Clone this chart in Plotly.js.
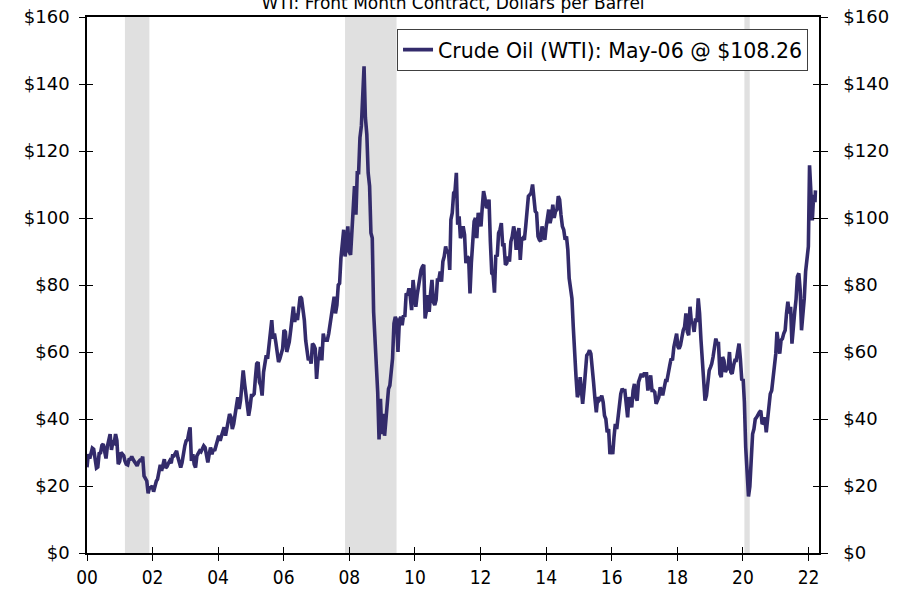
<!DOCTYPE html>
<html>
<head>
<meta charset="utf-8">
<script src="https://cdn.plot.ly/plotly-3.0.1.min.js"></script>
<style>
  html, body { margin: 0; padding: 0; background: #ffffff; }
  #chart { width: 900px; height: 589px; }
</style>
</head>
<body>
<div id="chart"></div>
<script>
// Semi-monthly WTI readings (1st and 16th of each month), $/barrel
const wti2000 = [25.6,29.5,28.2,29.7,31.3,31.0,26.9,25.4,25.7,29.7,29.9,32.1,32.5,29.7,28.2,31.8,33.4,35.5,30.8,33.1,32.8,35.5,33.6,26.5];
const wti2001 = [27.3,30.0,29.5,29.0,27.5,26.5,26.3,27.9,28.0,28.8,27.9,27.1,26.4,26.0,27.2,27.7,27.6,28.8,23.0,22.0,21.5,17.8,19.5,19.5];
const wti2002 = [20.0,18.3,20.3,21.5,22.0,24.5,26.3,24.5,27.0,28.0,25.4,25.8,26.8,27.5,26.8,29.0,29.0,29.8,30.5,28.5,26.5,25.5,27.0,30.5];
const wti2003 = [32.0,33.5,33.8,36.0,37.5,27.5,29.5,26.5,25.5,29.0,30.0,30.5,30.2,31.0,32.0,31.5,29.0,27.0,29.5,31.5,29.5,31.0,30.5,32.5];
const wti2004 = [33.5,35.0,33.5,35.0,36.5,37.5,35.0,37.5,39.5,41.5,40.5,37.0,38.5,41.0,43.8,46.5,43.0,45.5,50.0,54.5,50.5,47.5,45.5,41.0];
const wti2005 = [43.5,47.0,47.0,47.5,52.0,56.5,57.0,51.0,50.0,47.0,54.0,57.5,59.0,58.0,62.0,65.5,69.5,64.0,65.5,63.0,60.5,57.0,58.0,59.5];
const wti2006 = [61.0,66.5,66.0,60.0,61.5,63.0,66.5,69.5,73.5,69.0,71.5,69.5,73.5,76.5,76.0,72.5,69.5,63.5,61.0,57.5,58.5,56.5,62.5,62.0];
const wti2007 = [61.0,52.0,57.5,58.5,61.5,57.5,65.5,63.5,63.5,63.5,65.5,68.0,71.0,74.5,76.5,71.5,74.0,80.0,80.5,88.0,94.5,96.5,88.5,91.5];
const wti2008 = [97.5,90.0,89.0,95.5,102.0,109.5,101.0,113.5,113.5,124.0,127.5,134.6,145.3,130.0,125.0,113.5,109.5,95.5,94.0,72.0,63.5,55.0,48.0,33.9];
const wti2009 = [46.0,35.5,41.5,35.0,40.0,46.0,49.0,50.0,53.0,58.0,68.5,70.5,69.5,60.0,69.5,70.5,68.0,71.0,70.5,77.5,77.0,79.0,76.5,72.5];
const wti2010 = [81.5,78.0,73.5,77.0,79.5,81.0,84.5,85.5,86.0,70.0,72.5,77.0,72.0,77.5,81.5,75.0,74.0,75.5,81.5,81.5,84.0,81.0,87.0,88.5];
const wti2011 = [91.5,89.5,90.5,84.5,99.5,101.5,107.5,108.0,113.5,98.0,100.5,94.0,95.0,97.5,95.0,86.5,88.5,88.0,77.5,86.5,92.0,99.0,100.0,94.0];
const wti2012 = [101.5,99.5,97.5,103.5,108.0,106.0,103.0,103.5,105.5,93.0,83.5,83.0,77.7,89.0,88.5,95.5,96.5,98.5,92.0,92.0,86.0,86.5,88.5,87.0];
const wti2013 = [93.0,94.5,97.5,95.5,90.5,93.5,97.0,87.5,93.5,94.0,93.5,97.5,101.5,106.5,107.0,107.5,110.0,105.5,102.0,101.5,94.5,93.5,93.0,97.5];
const wti2014 = [95.0,93.5,97.5,100.5,102.5,98.5,100.5,104.0,100.0,102.0,102.5,106.5,105.5,101.0,97.5,96.5,93.5,94.5,90.5,82.0,79.5,76.0,67.5,57.0];
const wti2015 = [52.5,46.5,48.0,52.5,49.5,44.5,49.0,55.5,59.0,59.5,60.5,59.5,56.0,51.0,46.0,42.0,46.5,45.5,46.0,47.0,45.0,41.0,40.0,36.0];
const wti2016 = [37.0,29.5,32.0,29.5,34.5,38.5,37.0,40.5,45.5,47.5,49.0,48.5,48.5,45.5,40.5,46.5,44.5,43.5,48.5,50.5,46.5,45.5,51.0,52.0];
const wti2017 = [53.5,52.5,53.5,53.5,53.5,48.5,50.5,53.0,48.5,48.5,48.0,44.5,45.5,46.5,49.5,47.5,47.5,49.5,51.5,51.5,54.5,56.0,58.0,57.5];
const wti2018 = [61.5,64.0,65.5,61.5,61.0,62.0,64.5,66.5,67.5,71.5,66.0,65.0,73.5,69.0,68.5,66.0,70.0,69.0,76.0,71.5,63.5,56.5,52.5,45.5];
const wti2019 = [47.0,52.0,54.5,55.5,56.5,58.5,61.5,64.0,62.5,62.5,53.5,52.5,58.5,57.5,54.0,55.0,55.0,60.0,54.0,53.5,56.0,57.5,57.5,60.5];
const wti2020 = [62.5,58.0,51.5,52.0,45.0,31.5,21.0,16.9,19.8,29.5,35.5,37.0,40.0,40.5,41.5,42.0,42.5,38.5,39.0,40.5,36.0,40.5,45.5,47.5];
const wti2021 = [48.5,52.5,56.0,59.5,66.0,61.5,59.5,63.5,64.0,65.5,66.5,71.5,75.0,71.5,73.5,62.5,68.5,72.0,75.8,82.5,83.5,78.5,66.5,71.0];
const wti2022 = [76.0,84.0,88.0,91.5,115.7,104.7,99.3,106.9,104.7];
const lastDate = '2022-05-06';
const lastValue = 108.26;
const lastLabel = 'May-06';

// Recession periods
const recessionStart = ['2001-03-01','2007-12-01','2020-03-01'];
const recessionEnd   = ['2001-11-30','2009-06-30','2020-04-30'];

// Tick labels
const yearLabels = ['00','02','04','06','08','10','12','14','16','18','20','22'];

const years = [wti2000,wti2001,wti2002,wti2003,wti2004,wti2005,wti2006,wti2007,wti2008,wti2009,wti2010,wti2011,
               wti2012,wti2013,wti2014,wti2015,wti2016,wti2017,wti2018,wti2019,wti2020,wti2021,wti2022];
const xs = [], ys = [];
years.forEach((arr, yi) => {
  const yr = 2000 + yi;
  arr.forEach((v, i) => {
    const m = Math.floor(i / 2) + 1;
    const d = (i % 2 === 0) ? '01' : '16';
    xs.push(yr + '-' + String(m).padStart(2, '0') + '-' + d);
    ys.push(v);
  });
});
xs.push(lastDate); ys.push(lastValue);

// tick placement (reference spaces its labels slightly wider than calendar years)
const t0 = Date.UTC(2000, 0, 1);
const yearMs = 365.25 * 86400000;
const tickvals = yearLabels.map((_, k) => new Date(t0 + k * 2.0123 * yearMs).toISOString().slice(0, 10));

const lineColor = '#332b6b';
const fontFam = '"DejaVu Sans", Verdana, sans-serif';

const traces = [
  {
    x: xs, y: ys, type: 'scatter', mode: 'lines',
    name: 'Crude Oil (WTI): ' + lastLabel + ' @ $' + lastValue.toFixed(2),
    line: { color: lineColor, width: 3.6 },
    hoverinfo: 'x+y'
  },
  { x: [], y: [], xaxis: 'x2', yaxis: 'y3', showlegend: false, type: 'scatter', mode: 'lines' },
  { x: [], y: [], xaxis: 'x', yaxis: 'y2', showlegend: false, type: 'scatter', mode: 'lines' }
];

const shapes = recessionStart.map((s, i) => ({
  type: 'rect', xref: 'x', yref: 'paper', x0: s, x1: recessionEnd[i], y0: 0, y1: 1,
  fillcolor: '#e0e0e0', line: { width: 0 }, layer: 'below'
}));

const xRange = ['2000-01-01', '2022-06-15'];

const layout = {
  width: 900, height: 589,
  margin: { l: 87, r: 81, t: 17, b: 36 },
  paper_bgcolor: '#ffffff', plot_bgcolor: '#ffffff',
  font: { family: fontFam, color: '#000000' },
  title: {
    text: 'WTI: Front Month Contract, Dollars per Barrel',
    font: { family: fontFam, size: 17, color: '#000000' },
    x: 0.5, xanchor: 'center', xref: 'paper',
    y: 1.039, yanchor: 'bottom', yref: 'paper'
  },
  showlegend: true,
  legend: {
    x: 0.985, xanchor: 'right', y: 0.978, yanchor: 'top',
    bgcolor: '#ffffff', bordercolor: '#404040', borderwidth: 1,
    font: { family: fontFam, size: 20.5, color: '#000000' },
    itemwidth: 30, tracegroupgap: 0
  },
  xaxis: {
    type: 'date', range: xRange,
    tickmode: 'array', tickvals: tickvals, ticktext: yearLabels,
    ticks: 'outside', ticklen: 6, tickwidth: 1, tickcolor: '#000',
    showline: true, linecolor: '#000', linewidth: 1.5, mirror: true,
    showgrid: false, zeroline: false,
    tickfont: { family: '"Liberation Sans Narrow", "DejaVu Sans Condensed", sans-serif', size: 19, color: '#000' },
    ticklabelstandoff: 0
  },
  xaxis2: {
    type: 'date', range: xRange, overlaying: 'x',
    tickmode: 'array', tickvals: tickvals, ticktext: yearLabels,
    ticks: 'inside', ticklen: 6, tickwidth: 1, tickcolor: '#000',
    showticklabels: false, showline: false, showgrid: false, zeroline: false
  },
  yaxis: {
    range: [0, 160], dtick: 20, tick0: 0, tickprefix: '$',
    ticks: 'outside', ticklen: 6, tickwidth: 1, tickcolor: '#000',
    showline: true, linecolor: '#000', linewidth: 1.5,
    showgrid: false, zeroline: false,
    tickfont: { family: fontFam, size: 18, color: '#000' },
    ticklabelstandoff: 6
  },
  yaxis2: {
    range: [0, 160], dtick: 20, tick0: 0, tickprefix: '$',
    overlaying: 'y', side: 'right',
    ticks: 'outside', ticklen: 7, tickwidth: 1, tickcolor: '#000',
    showline: true, linecolor: '#000', linewidth: 1.5,
    showgrid: false, zeroline: false,
    tickfont: { family: fontFam, size: 18, color: '#000' },
    ticklabelstandoff: 12
  },
  yaxis3: {
    range: [0, 160], dtick: 20, tick0: 0, overlaying: 'y',
    ticks: 'inside', ticklen: 6, tickwidth: 1, tickcolor: '#000', mirror: 'ticks',
    showticklabels: false, showline: false, showgrid: false, zeroline: false
  },
  shapes: shapes
};

Plotly.newPlot('chart', traces, layout, { displayModeBar: false, responsive: false });
</script>
</body>
</html>
